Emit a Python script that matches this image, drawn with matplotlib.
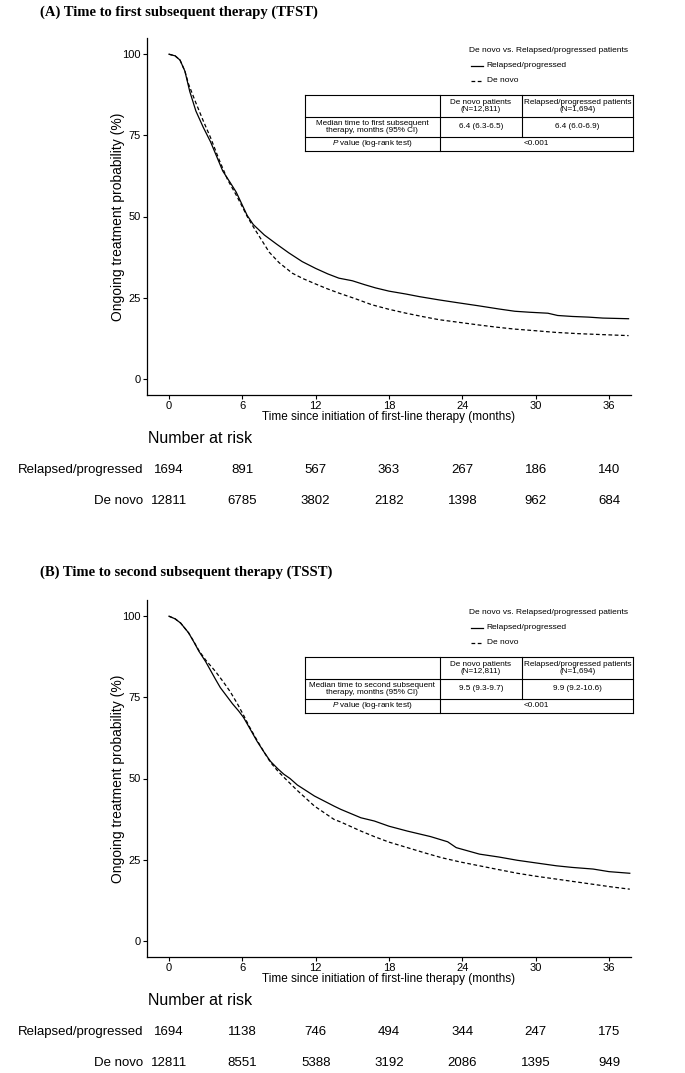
import matplotlib
matplotlib.use('Agg')
import matplotlib.pyplot as plt

plt.rcParams['font.family'] = ['Liberation Sans', 'DejaVu Sans']
plt.rcParams['mathtext.fontset'] = 'custom'
plt.rcParams['mathtext.it'] = 'Liberation Sans:italic'
plt.rcParams['mathtext.rm'] = 'Liberation Sans'

MONTHS = [0, 6, 12, 18, 24, 30, 36]

# (A) TFST curves
tfst_t_rel = [0, 0.5, 0.9, 1.3, 1.7, 2.2, 2.8, 3.4, 3.9, 4.4, 5.0, 5.5, 6.0, 6.4, 6.9, 7.8, 8.8, 9.8,
              10.9, 12.0, 13.0, 13.9, 15.0, 16.0, 16.9, 18.0, 19.4, 20.5, 22.1, 23.5, 25.3, 27.0,
              28.3, 29.5, 31.0, 31.8, 33.0, 34.3, 35.5, 37.6]
tfst_s_rel = [100, 99.5, 98.2, 94.8, 88.5, 82.5, 77.5, 73.0, 68.5, 64.0, 60.5, 57.5, 53.5, 50.3, 47.5,
              44.3, 41.5, 38.8, 36.1, 34.0, 32.3, 31.0, 30.2, 29.0, 28.0, 27.0, 26.1, 25.3, 24.3,
              23.5, 22.5, 21.5, 20.8, 20.5, 20.2, 19.5, 19.2, 19.0, 18.7, 18.5]
tfst_t_dn = [0, 0.5, 0.9, 1.3, 1.6, 2.2, 2.8, 3.4, 4.1, 4.8, 5.5, 6.0, 6.4, 6.9, 7.5, 8.2, 9.0, 10.1,
             11.0, 12.0, 12.9, 13.9, 15.3, 16.6, 18.0, 19.4, 20.7, 22.1, 23.7, 25.3, 26.8, 28.3,
             30.0, 31.6, 33.5, 35.5, 37.6]
tfst_s_dn = [100, 99.5, 98.2, 94.8, 90.8, 85.0, 79.5, 74.3, 67.5, 61.3, 56.6, 53.0, 50.0, 46.8, 43.2,
             39.0, 35.8, 32.5, 30.8, 29.2, 27.8, 26.4, 24.6, 22.8, 21.4, 20.2, 19.2, 18.2, 17.4,
             16.6, 15.9, 15.3, 14.8, 14.3, 13.9, 13.6, 13.3]

# (B) TSST curves
tsst_t_rel = [0, 0.5, 0.95, 1.6, 2.0, 2.45, 3.0, 3.4, 3.8, 4.2, 4.7, 5.2, 5.7, 6.1, 6.6, 7.2, 7.8, 8.3,
              8.9, 9.4, 9.9, 10.5, 11.9, 13.5, 14.05, 15.7, 16.8, 18.0, 19.5, 21.4, 22.8, 23.5,
              25.4, 27.0, 28.5, 30.0, 31.7, 33.0, 34.7, 36.0, 37.7]
tsst_s_rel = [100, 99.2, 97.9, 94.9, 92.3, 89.2, 86.0, 83.3, 80.6, 78.0, 75.5, 73.0, 70.8, 68.8, 65.5,
              61.5, 58.0, 55.3, 53.0, 51.3, 50.0, 48.0, 44.6, 41.5, 40.5, 37.9, 36.9, 35.3, 33.8,
              32.1, 30.5, 28.7, 26.7, 25.8, 24.8, 24.0, 23.1, 22.6, 22.1, 21.3, 20.8]
tsst_t_dn = [0, 0.5, 0.95, 1.6, 2.0, 2.45, 3.0, 3.8, 4.4, 5.0, 5.6, 6.1, 6.6, 7.2, 7.8, 8.3, 8.9, 9.5,
             10.5, 11.9, 13.5, 14.05, 15.7, 16.8, 18.0, 19.5, 21.0, 22.3, 23.8, 25.4, 27.0, 28.5,
             30.0, 31.7, 33.2, 34.7, 36.2, 37.7]
tsst_s_dn = [100, 99.2, 97.9, 94.9, 92.4, 89.4, 86.5, 83.0, 80.0, 76.8, 73.0, 69.5, 65.8, 61.8, 58.0,
             55.0, 52.3, 50.0, 46.3, 41.5, 37.4, 36.6, 33.8, 32.1, 30.4, 28.7, 27.0, 25.6, 24.3,
             23.1, 21.9, 20.8, 19.9, 19.0, 18.2, 17.4, 16.6, 15.9]

tfst_risk_rel = [1694, 891, 567, 363, 267, 186, 140]
tfst_risk_dn = [12811, 6785, 3802, 2182, 1398, 962, 684]
tsst_risk_rel = [1694, 1138, 746, 494, 344, 247, 175]
tsst_risk_dn = [12811, 8551, 5388, 3192, 2086, 1395, 949]

tfst_median = ['6.4 (6.3-6.5)', '6.4 (6.0-6.9)']
tsst_median = ['9.5 (9.3-9.7)', '9.9 (9.2-10.6)']


def hline(ax, x0, x1, y):
    ax.plot([x0, x1], [y, y], color='black', lw=0.8, transform=ax.transAxes, clip_on=False)


def vline(ax, x, y0, y1):
    ax.plot([x, x], [y0, y1], color='black', lw=0.8, transform=ax.transAxes, clip_on=False)


def panel(ax, t_rel, s_rel, t_dn, s_dn, risk_rel, risk_dn, medians, what):
    ax.plot(t_rel, s_rel, color='black', lw=0.9)
    ax.plot(t_dn, s_dn, color='black', lw=0.9, ls=(0, (3, 2)))
    ax.set_xlim(-1.8, 37.8)
    ax.set_ylim(-5, 105)
    ax.set_xticks(MONTHS)
    ax.set_yticks([0, 25, 50, 75, 100])
    for s in ['top', 'right']:
        ax.spines[s].set_visible(False)
    for s in ['left', 'bottom']:
        ax.spines[s].set_linewidth(0.9)
    ax.tick_params(length=3, width=0.8, labelsize=8, pad=1.5, colors='black')
    ax.text(-0.06, 0.5, 'Ongoing treatment probability (%)', transform=ax.transAxes,
            rotation=90, ha='center', va='center', fontsize=10)
    ax.text(0.5, -0.062, 'Time since initiation of first-line therapy (months)',
            transform=ax.transAxes, ha='center', va='center', fontsize=8.5)

    # legend
    ax.text(0.665, 0.966, 'De novo vs. Relapsed/progressed patients', transform=ax.transAxes,
            ha='left', va='center', fontsize=6)
    ax.plot([0.669, 0.694], [0.922, 0.922], color='black', lw=0.9, transform=ax.transAxes)
    ax.plot([0.669, 0.694], [0.880, 0.880], color='black', lw=0.9, ls=(0, (3, 2)),
            transform=ax.transAxes)
    ax.text(0.702, 0.922, 'Relapsed/progressed', transform=ax.transAxes, va='center', fontsize=6)
    ax.text(0.702, 0.880, 'De novo', transform=ax.transAxes, va='center', fontsize=6)

    # table
    xs = [0.326, 0.605, 0.775, 1.004]
    ys = [0.840, 0.779, 0.723, 0.684]
    for y in ys:
        hline(ax, xs[0], xs[3], y)
    vline(ax, xs[0], ys[0], ys[3])
    vline(ax, xs[3], ys[0], ys[3])
    vline(ax, xs[1], ys[0], ys[3])
    vline(ax, xs[2], ys[0], ys[2])
    cx = [(xs[i] + xs[i + 1]) / 2 for i in range(3)]
    cy = [(ys[i] + ys[i + 1]) / 2 for i in range(3)]
    kw = dict(transform=ax.transAxes, ha='center', va='center', fontsize=5.9, linespacing=1.1)
    ax.text(cx[1], cy[0], 'De novo patients\n(N=12,811)', **kw)
    ax.text(cx[2], cy[0], 'Relapsed/progressed patients\n(N=1,694)', **kw)
    ax.text(cx[0], cy[1], 'Median time to %s subsequent\ntherapy, months (95%% CI)' % what, **kw)
    ax.text(cx[1], cy[1], medians[0], **kw)
    ax.text(cx[2], cy[1], medians[1], **kw)
    ax.text(cx[0], cy[2], '$P$ value (log-rank test)', **kw)
    ax.text((xs[1] + xs[3]) / 2, cy[2], '<0.001', **kw)

    # number at risk
    ax.text(0.002, -0.123, 'Number at risk', transform=ax.transAxes, ha='left', va='center',
            fontsize=11.5)
    tr = ax.get_xaxis_transform()
    for label, vals, y in [('Relapsed/progressed', risk_rel, -0.210), ('De novo', risk_dn, -0.297)]:
        ax.text(-0.008, y, label, transform=ax.transAxes, ha='right', va='center', fontsize=9.5)
        for m, v in zip(MONTHS, vals):
            ax.text(m, y, str(v), transform=tr, ha='center', va='center', fontsize=9.5)


fig = plt.figure(figsize=(6.85, 10.73), dpi=100)
ax_a = fig.add_axes([147 / 685, 1 - 395 / 1073, 484 / 685, 357 / 1073])
ax_b = fig.add_axes([147 / 685, 1 - 957 / 1073, 484 / 685, 357 / 1073])

panel(ax_a, tfst_t_rel, tfst_s_rel, tfst_t_dn, tfst_s_dn, tfst_risk_rel, tfst_risk_dn,
      tfst_median, 'first')
panel(ax_b, tsst_t_rel, tsst_s_rel, tsst_t_dn, tsst_s_dn, tsst_risk_rel, tsst_risk_dn,
      tsst_median, 'second')

fig.text(40 / 685, 1 - 12 / 1073, '(A) Time to first subsequent therapy (TFST)',
         family='Liberation Serif', weight='bold', fontsize=10.5, ha='left', va='center')
fig.text(40 / 685, 1 - 572 / 1073, '(B) Time to second subsequent therapy (TSST)',
         family='Liberation Serif', weight='bold', fontsize=10.5, ha='left', va='center')

fig.savefig('out.png', dpi=100)
